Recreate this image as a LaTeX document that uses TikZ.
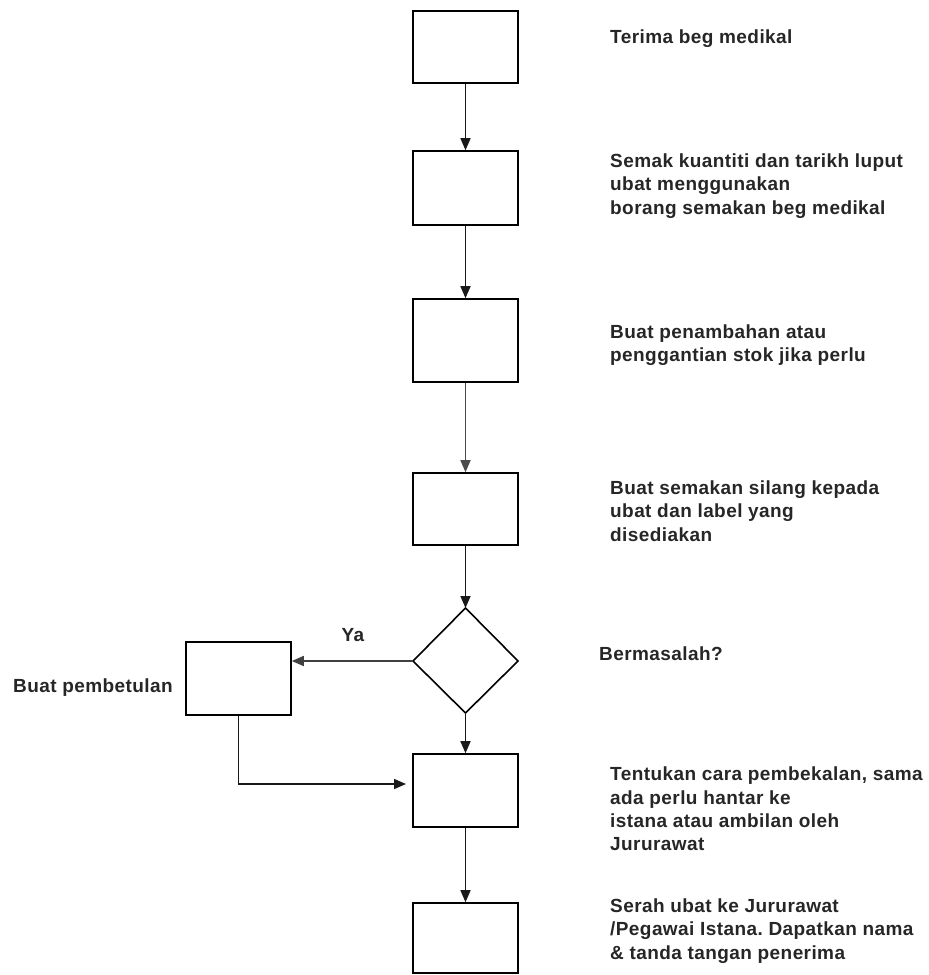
\documentclass[tikz,border=0pt]{standalone}
\usepackage{fontspec}
\setmainfont{Liberation Sans}
\newfontfamily\diafont[LetterSpace=2.2]{Liberation Sans}
\usetikzlibrary{arrows.meta,calc}
\frenchspacing
\begin{document}
\begin{tikzpicture}[x=1pt,y=-1pt,
  box/.style={draw=black,line width=1.6pt,minimum width=105pt,inner sep=0pt,fill=white},
  txt/.style={anchor=west,align=left,inner sep=0pt,text=black!85,font=\diafont\fontsize{19}{23.3}\selectfont\bfseries},
  conn/.style={draw=black!90,line width=1.6pt,-{Triangle[length=12pt,width=10pt]}}]
\useasboundingbox (0,0) rectangle (929,975);
\node[box,minimum height=72pt] (b1) at (465.5,47) {};
\node[box,minimum height=74pt] (b2) at (465.5,188) {};
\node[box,minimum height=83pt] (b3) at (465.5,340.5) {};
\node[box,minimum height=72pt] (b4) at (465.5,509) {};
\draw[line width=1.6pt] (413,661) -- (465.5,608) -- (518,661) -- (465.5,713) -- cycle;
\coordinate (dW) at (413,661);
\coordinate (dN) at (465.5,608);
\coordinate (dS) at (465.5,713);
\node[box,minimum height=73pt] (lb) at (238.5,678.5) {};
\node[box,minimum height=73pt] (b6) at (465.5,790.5) {};
\node[box,minimum height=70pt] (b7) at (465.5,938) {};
\coordinate (e6) at (406,784);
\draw[conn] (b1.south) -- (b2.north);
\draw[conn] (b2.south) -- (b3.north);
\draw[conn,draw=black!70] (b3.south) -- (b4.north);
\draw[conn] (b4.south) -- (dN);
\draw[conn] (dS) -- (b6.north);
\draw[conn] (b6.south) -- (b7.north);
\draw[conn,draw=black!75] (dW) -- (lb.east |- dW);
\draw[conn] (lb.south) |- (e6);
\node[txt,anchor=center] (ya) at (353,635) {Ya};
\node[txt] (t1) at (610,39) {Terima beg medikal};
\node[txt] (t2) at (610,186) {Semak kuantiti dan tarikh luput\\ubat menggunakan\\borang semakan beg medikal};
\node[txt] (t3) at (610,345) {Buat penambahan atau\\penggantian stok jika perlu};
\node[txt] (t4) at (610,511) {Buat semakan silang kepada\\ubat dan label yang\\disediakan};
\node[txt] (t5) at (599,654) {Bermasalah?};
\node[txt] (t6) at (13,688) {Buat pembetulan};
\node[txt] (t7) at (610,809) {Tentukan cara pembekalan, sama\\ada perlu hantar ke\\istana atau ambilan oleh\\Jururawat};
\node[txt] (t8) at (610,931) {Serah ubat ke Jururawat\\/Pegawai Istana. Dapatkan nama\\\& tanda tangan penerima};
\end{tikzpicture}
\end{document}
